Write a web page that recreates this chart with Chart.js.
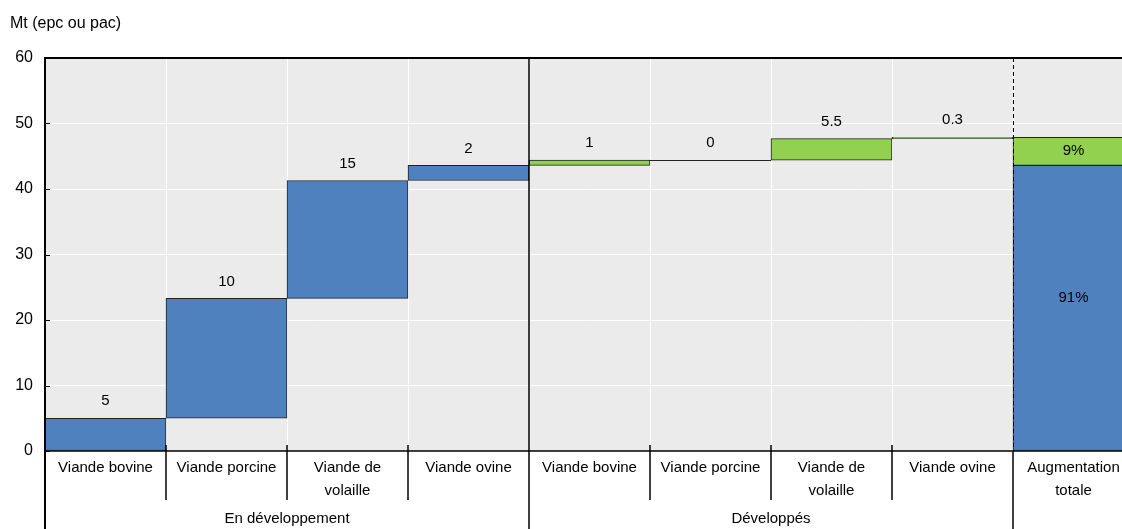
<!DOCTYPE html>
<html>
<head>
<meta charset="utf-8">
<script src="https://cdn.jsdelivr.net/npm/chart.js@4"></script>
<style>
  html, body { margin: 0; padding: 0; background: #fff; }
  #wrap { width: 1122px; height: 529px; overflow: hidden; position: relative; }
  #chart { display: block; }
</style>
</head>
<body>
<div id="wrap"><canvas id="chart" width="1140" height="529"></canvas></div>
<script>
// categories and groups
const categories = [
    ['Viande bovine'], ['Viande porcine'], ['Viande de', 'volaille'], ['Viande ovine'],
    ['Viande bovine'], ['Viande porcine'], ['Viande de', 'volaille'], ['Viande ovine'],
    ['Augmentation', 'totale']
];
const groupNames = ['En développement', 'Développés'];
const groupFirst = [0, 4];
const groupLast = [3, 7];

// waterfall levels (Mt)
const blueLow   = [0, 5, 23.3, 41.3, null, null, null, null, 0];
const blueHigh  = [5, 23.3, 41.3, 43.6, null, null, null, null, 43.6];
const greenLow  = [null, null, null, null, 43.6, 44.4, 44.4, 47.7, 43.6];
const greenHigh = [null, null, null, null, 44.4, 44.4, 47.7, 47.9, 47.9];

// labels printed on the chart
const valueLabels = ['5', '10', '15', '2', '1', '0', '5.5', '0.3'];
const totalBlueLabel = '91%';
const totalGreenLabel = '9%';

const yTicks = [0, 10, 20, 30, 40, 50, 60];

const BLUE = '#4e81bd';
const GREEN = '#92d050';
const FONT = '"Liberation Sans", Arial, sans-serif';

function pairs(lo, hi) {
    return lo.map((v, i) => v === null ? null : [v, hi[i]]);
}

const overlay = {
    id: 'overlay',
    beforeDraw(chart) {
        const { ctx, chartArea: a } = chart;
        ctx.save();
        ctx.fillStyle = '#ebebeb';
        ctx.fillRect(a.left, a.top, a.right - a.left, a.bottom - a.top);
        ctx.restore();
    },
    beforeDatasetsDraw(chart) {
        const { ctx, chartArea: a, scales: { x } } = chart;
        ctx.save();
        ctx.strokeStyle = '#ffffff';
        ctx.lineWidth = 1;
        for (let i = 1; i < categories.length; i++) {
            const bx = Math.round((x.getPixelForValue(i - 1) + x.getPixelForValue(i)) / 2) + 0.5;
            ctx.beginPath();
            ctx.moveTo(bx, a.top);
            ctx.lineTo(bx, a.bottom);
            ctx.stroke();
        }
        ctx.restore();
    },
    afterDraw(chart) {
        const { ctx, chartArea: a, scales: { x, y } } = chart;
        const H = chart.height;
        const half = (x.getPixelForValue(1) - x.getPixelForValue(0)) / 2;
        const edge = i => Math.round(x.getPixelForValue(i) - half);
        ctx.save();

        // flat (zero) steps
        ctx.strokeStyle = '#222';
        ctx.lineWidth = 1;
        for (let i = 0; i < greenLow.length; i++) {
            if (greenLow[i] !== null && greenLow[i] === greenHigh[i]) {
                const py = Math.round(y.getPixelForValue(greenHigh[i])) + 0.5;
                ctx.beginPath();
                ctx.moveTo(edge(i), py);
                ctx.lineTo(edge(i + 1), py);
                ctx.stroke();
            }
        }

        // y tick marks inside
        ctx.strokeStyle = '#000';
        ctx.lineWidth = 1;
        yTicks.forEach(t => {
            const py = Math.round(y.getPixelForValue(t)) + 0.5;
            ctx.beginPath();
            ctx.moveTo(a.left, py);
            ctx.lineTo(a.left + 5, py);
            ctx.stroke();
        });

        // axes frame
        ctx.lineWidth = 2;
        ctx.beginPath();
        ctx.moveTo(a.left, H);
        ctx.lineTo(a.left, a.top);
        ctx.lineTo(a.right, a.top);
        ctx.stroke();
        ctx.lineWidth = 1.5;
        ctx.beginPath();
        ctx.moveTo(a.left, a.bottom);
        ctx.lineTo(a.right, a.bottom);
        ctx.stroke();

        // separator between groups
        ctx.beginPath();
        ctx.moveTo(edge(4), a.top);
        ctx.lineTo(edge(4), H);
        ctx.stroke();

        // total column: dashed above axis, solid below
        ctx.lineWidth = 1;
        ctx.setLineDash([4, 3]);
        ctx.beginPath();
        ctx.moveTo(edge(8) + 0.5, a.top);
        ctx.lineTo(edge(8) + 0.5, a.bottom);
        ctx.stroke();
        ctx.setLineDash([]);
        ctx.lineWidth = 1.5;
        ctx.beginPath();
        ctx.moveTo(edge(8), a.bottom);
        ctx.lineTo(edge(8), H);
        ctx.stroke();

        // category ticks within groups
        for (let g = 0; g < groupFirst.length; g++) {
            for (let i = groupFirst[g] + 1; i <= groupLast[g]; i++) {
                ctx.beginPath();
                ctx.moveTo(edge(i), a.bottom - 6);
                ctx.lineTo(edge(i), a.bottom + 49);
                ctx.stroke();
            }
        }

        // category labels
        ctx.fillStyle = '#000';
        ctx.textAlign = 'center';
        ctx.textBaseline = 'middle';
        ctx.font = '15px ' + FONT;
        categories.forEach((lines, i) => {
            lines.forEach((t, k) => ctx.fillText(t, x.getPixelForValue(i), a.bottom + 17 + k * 23));
        });
        // group labels
        groupNames.forEach((name, g) => {
            const cx = (edge(groupFirst[g]) + edge(groupLast[g] + 1)) / 2;
            ctx.fillText(name, cx, a.bottom + 68);
        });

        // value labels above the steps
        valueLabels.forEach((t, i) => {
            const top = Math.max(blueHigh[i] ?? -Infinity, greenHigh[i] ?? -Infinity);
            ctx.fillText(t, x.getPixelForValue(i), y.getPixelForValue(top) - 17);
        });
        // total shares
        const ti = categories.length - 1;
        ctx.fillText(totalGreenLabel, x.getPixelForValue(ti),
            (y.getPixelForValue(greenLow[ti]) + y.getPixelForValue(greenHigh[ti])) / 2);
        ctx.fillText(totalBlueLabel, x.getPixelForValue(ti),
            (y.getPixelForValue(blueLow[ti]) + y.getPixelForValue(blueHigh[ti])) / 2 - 10);

        // unit title
        ctx.textAlign = 'left';
        ctx.font = '16px ' + FONT;
        ctx.fillText('Mt (epc ou pac)', 10, 24);
        ctx.restore();
    }
};

new Chart(document.getElementById('chart'), {
    type: 'bar',
    data: {
        labels: categories,
        datasets: [
            {
                data: pairs(blueLow, blueHigh),
                backgroundColor: BLUE,
                borderColor: '#222',
                borderWidth: 1,
                borderSkipped: false,
                grouped: false,
                barPercentage: 1,
                categoryPercentage: 1
            },
            {
                data: pairs(greenLow, greenHigh),
                backgroundColor: GREEN,
                borderColor: '#222',
                borderWidth: 1,
                borderSkipped: false,
                grouped: false,
                barPercentage: 1,
                categoryPercentage: 1
            }
        ]
    },
    options: {
        responsive: false,
        animation: false,
        layout: { padding: { top: 58, right: 6, bottom: 78, left: 0 } },
        plugins: { legend: { display: false }, tooltip: { enabled: false } },
        scales: {
            x: { display: false },
            y: {
                min: 0,
                max: 60,
                afterFit: s => { s.width = 45; },
                afterBuildTicks: s => { s.ticks = yTicks.map(v => ({ value: v })); },
                ticks: { color: '#000', padding: 12, font: { size: 16, family: FONT } },
                grid: { color: '#ffffff', lineWidth: 1, drawTicks: false },
                border: { display: false }
            }
        }
    },
    plugins: [overlay]
});
</script>
</body>
</html>
